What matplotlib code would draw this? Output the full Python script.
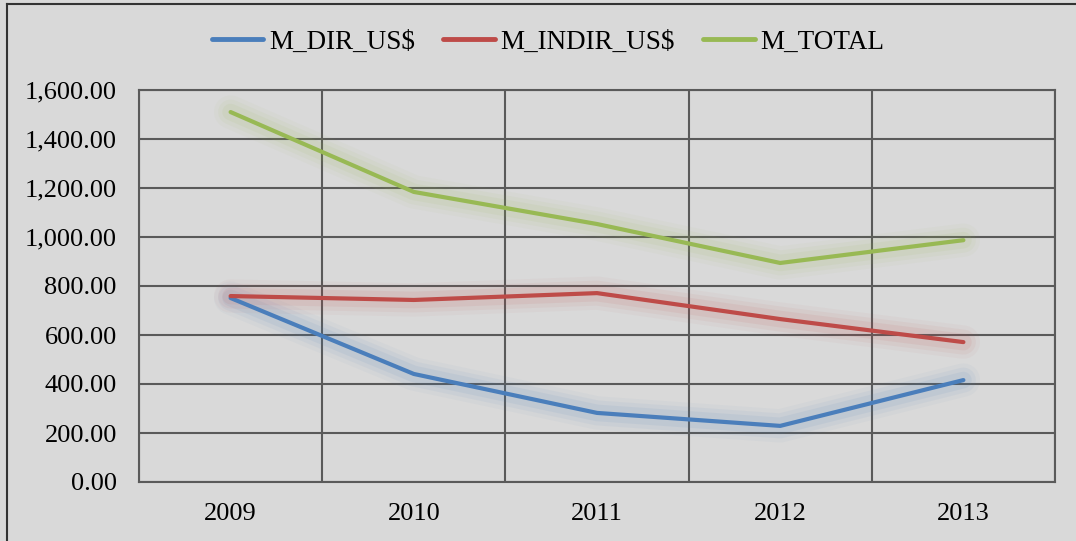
import matplotlib
matplotlib.use("Agg")
import matplotlib.pyplot as plt
import numpy as np
from matplotlib.lines import Line2D

years = ["2009", "2010", "2011", "2012", "2013"]
m_dir = [751, 441, 282, 229, 416]
m_indir = [759, 743, 771, 665, 571]
m_total = [1510, 1184, 1053, 894, 987]

series = [("M_DIR_US$", m_dir, "#4a7ebb"),
          ("M_INDIR_US$", m_indir, "#be4b48"),
          ("M_TOTAL", m_total, "#98b954")]

plt.rcParams['font.family'] = ['Liberation Serif', 'DejaVu Serif']
bg = "#d9d9d9"
grid_c = "#5a5a5a"

fig = plt.figure(figsize=(10.76, 5.41), dpi=100, facecolor=bg)
ax = fig.add_axes([139/1076, 1 - 482/541, (1055-139)/1076, (482-90)/541])
ax.set_facecolor(bg)

x = np.arange(len(years))

# soft glow underneath each line
for name, vals, col in series:
    for w, a in [(24, 0.04), (18, 0.06), (12, 0.08)]:
        ax.plot(x, vals, color=col, lw=w, alpha=a, solid_capstyle='round',
                solid_joinstyle='round', zorder=2)

handles = []
for name, vals, col in series:
    ax.plot(x, vals, color=col, lw=3, solid_capstyle='round', zorder=3, label=name)
    handles.append(Line2D([0], [0], color=col, lw=3.5, solid_capstyle='round'))

ax.set_xlim(-0.5, len(years) - 0.5)
ax.set_ylim(0, 1600)
ax.set_yticks(np.arange(0, 1601, 200))
ax.set_yticklabels([f"{v:,.2f}" for v in np.arange(0, 1601, 200)])
ax.set_xticks(x)
ax.set_xticklabels(years)
ax.set_xticks(np.arange(-0.5, len(years), 1), minor=True)
ax.grid(True, which='major', axis='y', color=grid_c, lw=1.5, zorder=1)
ax.grid(True, which='minor', axis='x', color=grid_c, lw=1.5, zorder=1)
ax.tick_params(which='both', length=0, labelsize=19, colors='black')
ax.tick_params(axis='y', pad=16)
ax.tick_params(axis='x', pad=15)
for s in ax.spines.values():
    s.set_color(grid_c)
    s.set_linewidth(1.5)

fig.legend(handles, [s[0] for s in series], loc='center', bbox_to_anchor=(548/1076, 1 - 42/541),
           ncol=3, frameon=False, fontsize=19.5, handlelength=1.9, handletextpad=0.2,
           columnspacing=1.05)

# outer chart border (left and top visible)
fig.add_artist(Line2D([7/1076, 7/1076], [0, 1 - 4/541], color="#333333", lw=1.5,
                      transform=fig.transFigure))
fig.add_artist(Line2D([7/1076, 1], [1 - 4/541, 1 - 4/541], color="#333333", lw=1.5,
                      transform=fig.transFigure))

fig.savefig("out.png", dpi=100, facecolor=bg)
